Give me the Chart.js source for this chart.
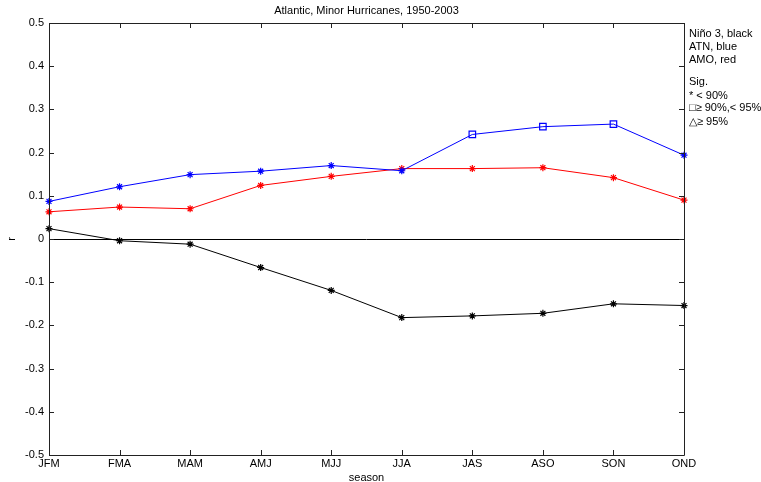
<!DOCTYPE html>
<html>
	<head>
		<meta charset="UTF-8">
		<title>Atlantic, Minor Hurricanes, 1950-2003</title>
		<style type="text/css">
			html, body{
				margin: 0;
				padding: 0;
				background: #fff;
			}
			#wrap{
				position: relative;
				width: 761px;
				height: 482px;
			}
		</style>
	</head>
	<body>
		<div id="wrap"><canvas id="myChart" width="761" height="482"></canvas></div>
	</body>
	<script src="https://cdn.jsdelivr.net/npm/chart.js@4.4.0/dist/chart.umd.min.js"></script>
	<script>
		// seasons along the x axis
		var seasons = ['JFM', 'FMA', 'MAM', 'AMJ', 'MJJ', 'JJA', 'JAS', 'ASO', 'SON', 'OND'];
		// correlation r for each index
		var nino3 = [0.024, -0.004, -0.012, -0.066, -0.119, -0.182, -0.178, -0.172, -0.150, -0.154];
		var atn = [0.087, 0.121, 0.149, 0.157, 0.170, 0.158, 0.242, 0.260, 0.266, 0.194];
		var amo = [0.063, 0.074, 0.070, 0.124, 0.145, 0.163, 0.163, 0.165, 0.142, 0.090];
		// significance: 0 = < 90%, 1 = >= 90% < 95%, 2 = >= 95%
		var nino3Sig = [0, 0, 0, 0, 0, 0, 0, 0, 0, 0];
		var atnSig = [0, 0, 0, 0, 0, 0, 1, 1, 1, 0];
		var amoSig = [0, 0, 0, 0, 0, 0, 0, 0, 0, 0];
		// y tick labels
		var yTicks = [-0.5, -0.4, -0.3, -0.2, -0.1, 0, 0.1, 0.2, 0.3, 0.4, 0.5];
		var titleText = 'Atlantic, Minor Hurricanes, 1950-2003';
		var noteLines = ['Niño 3, black', 'ATN, blue', 'AMO, red', '', 'Sig.', '* < 90%', '□≥ 90%,< 95%', '△≥ 95%'];

		var FONT = '11px "Liberation Sans", Arial, sans-serif';
		Chart.defaults.font.family = '"Liberation Sans", Arial, sans-serif';
		Chart.defaults.font.size = 11;
		Chart.defaults.color = '#000';

		function sigStyle(s){
			return s === 1 ? 'rect' : (s === 2 ? 'triangle' : 'star');
		}
		function sigRadius(s){
			return s === 0 ? 3.5 : 4.6;
		}
		function makeSet(label, values, sig, color){
			return {
				label: label,
				data: values,
				borderColor: color,
				backgroundColor: color,
				borderWidth: 1,
				pointStyle: sig.map(sigStyle),
				pointRadius: sig.map(sigRadius),
				pointBorderColor: color,
				pointBackgroundColor: sig.map(function(s){ return s === 0 ? color : 'rgba(0,0,0,0)'; }),
				pointBorderWidth: 1.2,
				tension: 0,
				fill: false
			};
		}

		// axis box, inward ticks and the text around the plot
		var frame = {
			id: 'frame',
			afterDraw: function(chart){
				var ctx = chart.ctx, a = chart.chartArea;
				var xs = chart.scales.x, ys = chart.scales.y;
				ctx.save();
				ctx.strokeStyle = '#222';
				ctx.lineWidth = 1;
				ctx.beginPath();
				ctx.rect(Math.round(a.left) + 0.5, Math.round(a.top) + 0.5, Math.round(a.right - a.left), Math.round(a.bottom - a.top));
				var tl = 5;
				xs.ticks.forEach(function(t, i){
					var x = Math.round(xs.getPixelForTick(i)) + 0.5;
					ctx.moveTo(x, a.bottom); ctx.lineTo(x, a.bottom - tl);
					ctx.moveTo(x, a.top); ctx.lineTo(x, a.top + tl);
				});
				ys.ticks.forEach(function(t, i){
					var y = Math.round(ys.getPixelForTick(i)) + 0.5;
					ctx.moveTo(a.left, y); ctx.lineTo(a.left + tl, y);
					ctx.moveTo(a.right, y); ctx.lineTo(a.right - tl, y);
				});
				ctx.stroke();

				ctx.fillStyle = '#000';
				ctx.font = FONT;
				ctx.textAlign = 'center';
				ctx.textBaseline = 'middle';
				ctx.fillText(titleText, (a.left + a.right) / 2, 11);
				ctx.fillText('season', (a.left + a.right) / 2, 478);
				ctx.save();
				ctx.translate(12, ys.getPixelForValue(0));
				ctx.rotate(-Math.PI / 2);
				ctx.fillText('r', 0, 0);
				ctx.restore();

				ctx.textAlign = 'left';
				var ly = [34, 47, 60, 71, 82, 96, 108, 122];
				noteLines.forEach(function(s, i){
					if(s) ctx.fillText(s, a.right + 5, ly[i]);
				});
				ctx.restore();
			}
		};

		var ctx = document.getElementById('myChart').getContext('2d');
		var chart = new Chart(ctx, {
			type: 'line',
			data: {
				labels: seasons,
				datasets: [
					makeSet('Niño 3', nino3, nino3Sig, '#000000'),
					makeSet('ATN', atn, atnSig, '#0000ff'),
					makeSet('AMO', amo, amoSig, '#ff0000')
				]
			},
			options: {
				responsive: false,
				animation: false,
				devicePixelRatio: 1,
				layout: {
					padding: {top: 23, right: 77, bottom: 0, left: 0}
				},
				plugins: {
					legend: {display: false},
					title: {display: false},
					tooltip: {enabled: false}
				},
				scales: {
					x: {
						type: 'category',
						offset: false,
						grid: {display: false, drawTicks: false},
						border: {display: false},
						ticks: {padding: 2, maxRotation: 0, autoSkip: false, color: '#000'},
						afterFit: function(s){ s.height = 27; }
					},
					y: {
						min: -0.5,
						max: 0.5,
						afterBuildTicks: function(s){
							s.ticks = yTicks.map(function(v){ return {value: v}; });
						},
						ticks: {
							padding: 5,
							color: '#000',
							callback: function(v){ return String(Math.round(v * 10) / 10); }
						},
						grid: {
							drawTicks: false,
							lineWidth: 1,
							color: function(c){ return c.tick && c.tick.value === 0 ? '#000' : 'rgba(0,0,0,0)'; }
						},
						border: {display: false},
						afterFit: function(s){ s.width = 49; }
					}
				}
			},
			plugins: [frame]
		});
	</script>
</html>
